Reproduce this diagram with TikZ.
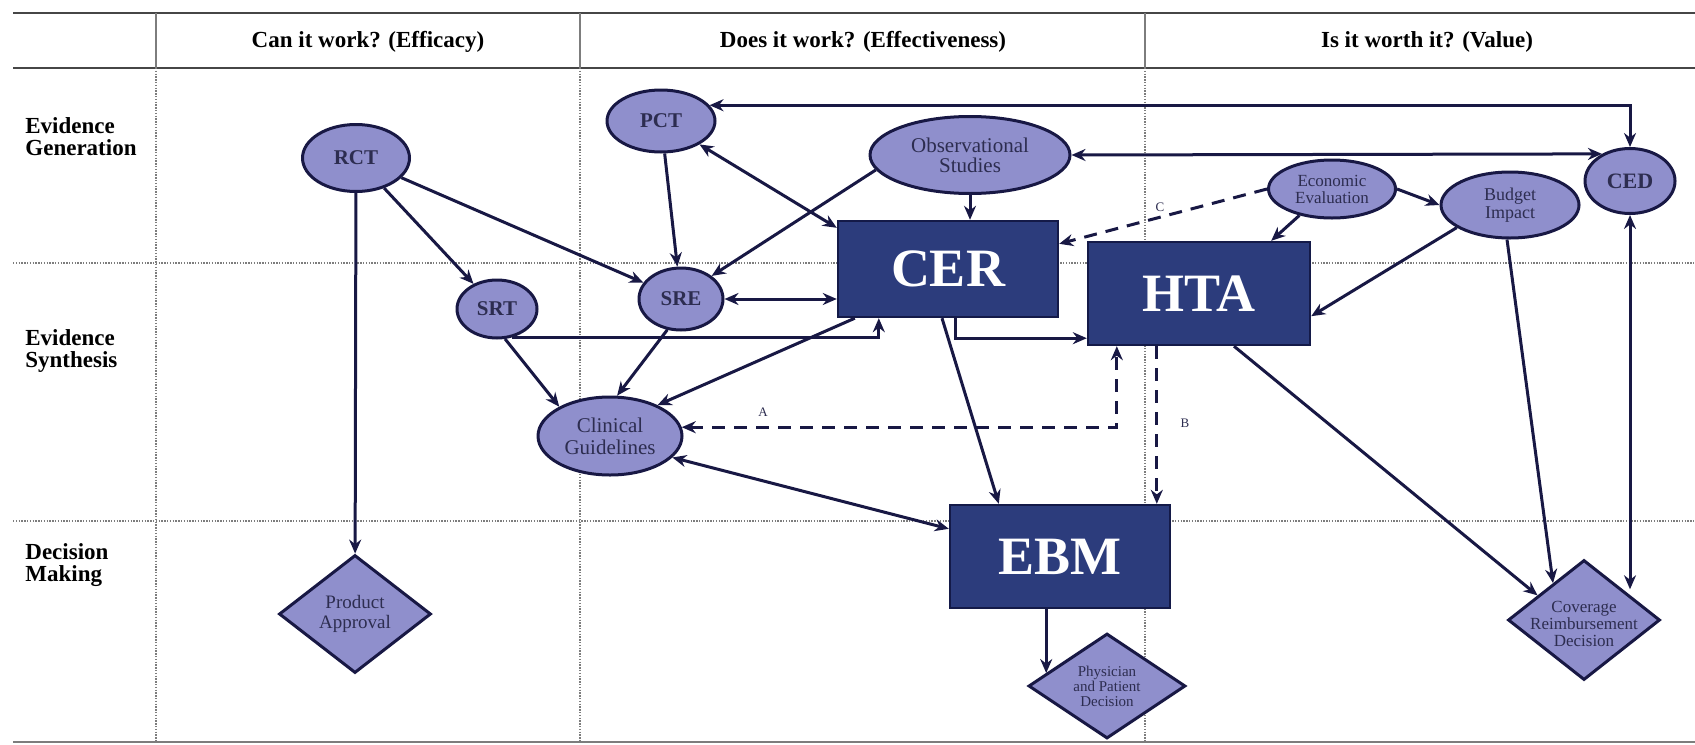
\documentclass[tikz,border=0pt]{standalone}
\usepackage{fontspec}
\setmainfont{Liberation Serif}
\usetikzlibrary{shapes.geometric,arrows.meta,calc}
\definecolor{ellfill}{RGB}{143,143,204}
\definecolor{navy}{RGB}{24,24,68}
\definecolor{boxfill}{RGB}{44,60,124}
\definecolor{boxline}{RGB}{20,26,72}
\definecolor{etext}{RGB}{45,45,80}
\definecolor{rulec}{RGB}{70,70,70}
\definecolor{dotc}{RGB}{125,125,125}
\begin{document}
\begin{tikzpicture}[x=0.5pt,y=-0.5pt,
  ell/.style={ellipse, draw=navy, fill=ellfill, line width=1.5pt, inner sep=0pt, align=center, text=etext},
  bx/.style={rectangle, draw=boxline, fill=boxfill, line width=1.2pt, inner sep=0pt, text=white, font=\fontsize{27}{27}\selectfont\bfseries},
  dmd/.style={diamond, draw=navy, fill=ellfill, line width=1.5pt, inner sep=0pt},
  arr/.style={draw=navy, line width=1.5pt, -{Stealth[length=7pt,width=6pt]}},
  arrb/.style={draw=navy, line width=1.5pt, {Stealth[length=7pt,width=6pt]}-{Stealth[length=7pt,width=6pt]}},
  dsh/.style={dash pattern=on 6.5pt off 4.5pt},
  hdr/.style={font=\fontsize{11.5}{12}\selectfont\bfseries},
  rowlab/.style={anchor=west, align=left, inner sep=0pt, font=\fontsize{11.5}{11}\selectfont\bfseries},
  hrule/.style={draw=rulec, line width=1.3pt},
  drule/.style={draw=dotc, line width=0.9pt, dash pattern=on 0.7pt off 0.7pt},
  lbl/.style={font=\fontsize{6.5}{6.5}\selectfont, text=etext},
  acr/.style={font=\fontsize{10.5}{11}\selectfont\bfseries}
]
\useasboundingbox (0,0) rectangle (1695,744);
\fill[white] (0,0) rectangle (1695,744);

% table rules
\draw[hrule] (13,13) -- (1695,13);
\draw[hrule] (13,68) -- (1695,68);
\draw[drule] (13,263) -- (1695,263);
\draw[drule] (13,521) -- (1695,521);
\draw[draw=dotc, line width=1pt] (13,742) -- (1695,742);
\foreach \x in {156,580,1145} {
  \draw[draw=dotc, line width=0.9pt] (\x,13) -- (\x,68);
  \draw[drule] (\x,68) -- (\x,742);
}

% headers
\node[hdr] (h1) at (368,42) {Can it work? (Efficacy)};
\node[hdr] (h2) at (863,42) {Does it work? (Effectiveness)};
\node[hdr] (h3) at (1427,42) {Is it worth it? (Value)};
\node[rowlab] (r1) at (25,137) {Evidence\\Generation};
\node[rowlab] (r2) at (25,351) {Evidence\\Synthesis};
\node[rowlab] (r3) at (25,565) {Decision\\Making};

% ellipses
\node[ell, acr, minimum width=53.5pt, minimum height=33.5pt] (rct) at (356,158) {RCT};
\node[ell, acr, minimum width=54pt, minimum height=31pt] (pct) at (661,121) {PCT};
\node[ell, minimum width=100pt, minimum height=38.5pt, font=\fontsize{10.5}{10}\selectfont] (obs) at (970,155) {Observational\\Studies};
\node[ell, acr, minimum width=40pt, minimum height=29pt] (srt) at (497,309) {SRT};
\node[ell, acr, minimum width=42pt, minimum height=31pt] (sre) at (681,299) {SRE};
\node[ell, minimum width=72pt, minimum height=39pt, font=\fontsize{10.5}{11}\selectfont] (cg) at (610,436) {Clinical\\Guidelines};
\node[ell, minimum width=63.5pt, minimum height=29pt, font=\fontsize{8.5}{8.5}\selectfont] (ee) at (1332,189) {Economic\\Evaluation};
\node[ell, minimum width=69pt, minimum height=33pt, font=\fontsize{9}{9}\selectfont] (bi) at (1510,205) {Budget\\Impact};
\node[ell, minimum width=45pt, minimum height=32.5pt, font=\fontsize{11}{11}\selectfont\bfseries] (ced) at (1630,181) {CED};

% boxes
\node[bx, minimum width=110pt, minimum height=48pt] (cer) at (948,269) {CER};
\node[bx, minimum width=111pt, minimum height=51.5pt] (hta) at (1199,293.5) {HTA};
\node[bx, minimum width=110pt, minimum height=51.5pt] (ebm) at (1060,556.5) {EBM};

% diamonds
\node[dmd, minimum width=76pt, minimum height=59pt,
  label={[align=center, text=etext, font=\fontsize{9.5}{10}\selectfont]center:Product\\Approval}] (pa) at (355,614) {};
\node[dmd, minimum width=78.5pt, minimum height=52.5pt,
  label={[align=center, text=etext, font=\fontsize{7.5}{7.5}\selectfont]center:Physician\\and Patient\\Decision}] (phys) at (1107,686) {};
\node[dmd, minimum width=76pt, minimum height=60pt,
  label={[align=center, text=etext, font=\fontsize{8.5}{8.5}\selectfont, yshift=-2pt]center:Coverage\\Reimbursement\\Decision}] (cov) at (1584,620) {};

% connector labels
\node[lbl] (la) at (763,412) {A};
\node[lbl] (lb) at (1185,423) {B};
\node[lbl] (lc) at (1160,207) {C};

% connectors
\draw[arr] (rct) -- (pa);
\draw[arr] (rct) -- (srt);
\draw[arr] (rct) -- (sre);
\draw[arr] (pct) -- (sre);
\draw[arrb] (pct) -- ($(cer.north west)+(0,8)$);
\draw[arr] (obs.189) -- (sre.37);
\draw[arr] (obs.south) -- (obs.south |- cer.north);
\draw[arrb] (pct.18) -| (ced.north);
\draw[arrb] (obs.east) -- (ced.136);
\draw[arr, dsh] (ee.west) -- ($(cer.north east)+(0,24)$);
\draw[arr] (ee.east) -- (bi.west);
\draw[arr] (ee.219) -- ($(hta.north east)+(-40,0)$);
\draw[arr] (bi.203) -- ($(hta.south east)+(0,-30)$);
\draw[arr] (bi.265) -- ($(cov.north)!0.4!(cov.west)$);
\draw[arrb] (ced.south) -- (ced.south |- cov.north east);
\draw[arr] ($(hta.south)+(35,0)$) -- ($(cov.north)!0.6!(cov.west)$);
\draw[arrb] (sre.east) -- (sre.east -| cer.west);
\draw[arr] (srt.298) -| ($(cer.south west)+(42,0)$);
\draw[arr] (srt.285) -- (cg.150);
\draw[arr] (sre.246) -- (cg.80);
\draw[arr] ($(cer.south west)+(18,0)$) -- (cg.33);
\draw[arr] ($(cer.south)+(7,0)$) |- ($(hta.south west)+(0,-8)$);
\draw[arr] ($(cer.south)+(-6,0)$) -- ($(ebm.north west)+(50,0)$);
\draw[arrb, dsh] (cg.7) -| ($(hta.south west)+(30,0)$);
\coordinate (b1) at ($(hta.south west)+(70,0)$);
\draw[arr, dsh] (b1) -- (b1 |- ebm.north);
\draw[arrb] (cg.341) -- ($(ebm.north west)+(0,25)$);
\coordinate (p2) at ($(phys.west)!0.24!(phys.north)$);
\draw[arr] (p2 |- ebm.south) -- (p2);
\end{tikzpicture}
\end{document}
